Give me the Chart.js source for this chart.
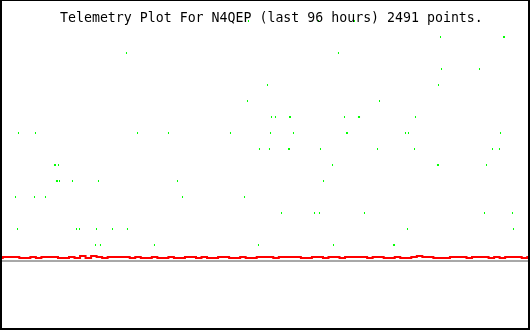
<!DOCTYPE html>
<html>
<head>
<meta charset="utf-8">
<title>Telemetry Plot For N4QEP</title>
<script src="https://cdn.jsdelivr.net/npm/chart.js@4.4.1/dist/chart.umd.min.js"></script>
<style>
    html, body { margin: 0; padding: 0; background: #ffffff; }
    #wrap { position: relative; width: 530px; height: 330px; }
    #plot { position: absolute; left: 0; top: 0; }
    #frame {
        position: absolute; left: 0; top: 0; width: 526px; height: 327px;
        border-left: 2px solid #000; border-top: 1px solid #000;
        border-right: 2px solid #000; border-bottom: 2px solid #000;
        pointer-events: none;
    }
    #title {
        position: absolute; left: 60px; top: 11px;
        font-family: "DejaVu Sans Mono", monospace; font-size: 13.25px; line-height: 13px;
        color: #000; white-space: pre;
    }
</style>
</head>
<body>
<div id="wrap">
    <canvas id="plot" width="530" height="330"></canvas>
    <div id="frame"></div>
    <div id="title">Telemetry Plot For N4QEP (last 96 hours) 2491 points.</div>
</div>
<script>
// Time window (hours) and level range of the plot
const hoursWindow = [0, 96];
const levelRange = [-4.3125, 16.3125];

// Digital / status samples (green): hour of sample and level
const greenHours = [
    2.81, 3.17, 3.35, 6.25, 6.43, 8.24, 9.87, 10.05, 10.23, 10.42, 10.60, 10.78,
    13.13, 13.86, 14.40, 17.30, 17.48, 17.84, 18.20, 20.38, 22.91, 23.09, 24.91,
    27.98, 30.52, 32.15, 33.06, 41.75, 44.29, 44.83, 45.01, 46.82, 47.00, 48.45,
    48.81, 49.00, 49.18, 49.90, 50.99, 52.26, 52.44, 52.44, 52.62, 53.16, 56.97,
    57.69, 57.87, 58.05, 58.60, 60.23, 60.41, 61.31, 62.40, 62.76, 62.94, 64.21,
    64.93, 65.12, 66.02, 68.38, 68.74, 71.27, 71.46, 73.45, 73.81, 73.99, 75.08,
    75.26, 79.24, 79.43, 79.43, 79.79, 79.97, 86.85, 87.76, 88.12, 89.21, 90.47,
    90.66, 91.20, 91.38, 92.83, 93.01
];
const greenLevels = [
    4, 2, 8, 4, 8, 4, 6, 6, 5, 5, 6, 5,
    5, 2, 2, 1, 2, 5, 1, 2, 13, 2, 8,
    1, 8, 5, 4, 8, 4, 10, 15, 1, 7, 11,
    7, 8, 9, 9, 3, 7, 7, 9, 9, 8, 3,
    15, 3, 7, 5, 6, 1, 13, 9, 8, 8, 15,
    9, 9, 3, 7, 10, 1, 1, 8, 2, 8, 7,
    9, 6, 6, 11, 14, 12, 12, 3, 6, 7, 7,
    8, 14, 14, 3, 2
];

// Analog channel (red), one reading per hour
const redHours = [];
for (let h = hoursWindow[0]; h <= hoursWindow[1]; h++) redHours.push(h);
const redLevels = [
    0.1875, 0.25, 0.25, 0.25, 0.1875, 0.1875, 0.25, 0.1875, 0.25, 0.25,
    0.25, 0.1875, 0.1875, 0.25, 0.1875, 0.3125, 0.1875, 0.3125, 0.25, 0.1875,
    0.25, 0.25, 0.25, 0.25, 0.1875, 0.25, 0.1875, 0.1875, 0.25, 0.1875,
    0.1875, 0.25, 0.1875, 0.1875, 0.25, 0.25, 0.1875, 0.25, 0.1875, 0.1875,
    0.25, 0.25, 0.1875, 0.1875, 0.25, 0.1875, 0.1875, 0.25, 0.25, 0.25,
    0.1875, 0.25, 0.25, 0.25, 0.25, 0.1875, 0.1875, 0.25, 0.25, 0.1875,
    0.25, 0.25, 0.1875, 0.25, 0.25, 0.25, 0.25, 0.1875, 0.25, 0.25,
    0.1875, 0.1875, 0.25, 0.1875, 0.1875, 0.25, 0.3125, 0.25, 0.25, 0.1875,
    0.1875, 0.1875, 0.25, 0.25, 0.25, 0.1875, 0.25, 0.25, 0.25, 0.1875,
    0.25, 0.1875, 0.25, 0.25, 0.25, 0.1875, 0.25
];

// Baseline (grey)
const baseLevel = 0;

const greenPoints = greenHours.map((h, i) => ({ x: h, y: greenLevels[i] }));
const redPoints = redHours.map((h, i) => ({ x: h, y: redLevels[i] }));
const basePoints = hoursWindow.map(h => ({ x: h, y: baseLevel }));

const ctx = document.getElementById("plot").getContext("2d");
const telemetryChart = new Chart(ctx, {
    type: "scatter",
    data: {
        datasets: [
            {
                label: "baseline",
                data: basePoints,
                showLine: true,
                borderColor: "#a8a8a8",
                borderWidth: 2,
                pointRadius: 0
            },
            {
                label: "analog",
                data: redPoints,
                showLine: true,
                stepped: "middle",
                borderColor: "#ff0000",
                borderWidth: 2,
                pointRadius: 0
            },
            {
                label: "status",
                data: greenPoints,
                showLine: false,
                pointStyle: "line",
                rotation: 90,
                pointRadius: 1,
                pointBorderWidth: 1,
                pointBorderColor: "#00ff00",
                pointBackgroundColor: "#00ff00"
            }
        ]
    },
    options: {
        responsive: false,
        animation: false,
        devicePixelRatio: 1,
        layout: { padding: 0, autoPadding: false },
        plugins: {
            legend: { display: false },
            title: { display: false },
            tooltip: { enabled: false }
        },
        scales: {
            x: { type: "linear", min: hoursWindow[0], max: hoursWindow[1], display: false },
            y: { type: "linear", min: levelRange[0], max: levelRange[1], display: false }
        }
    }
});
</script>
</body>
</html>
